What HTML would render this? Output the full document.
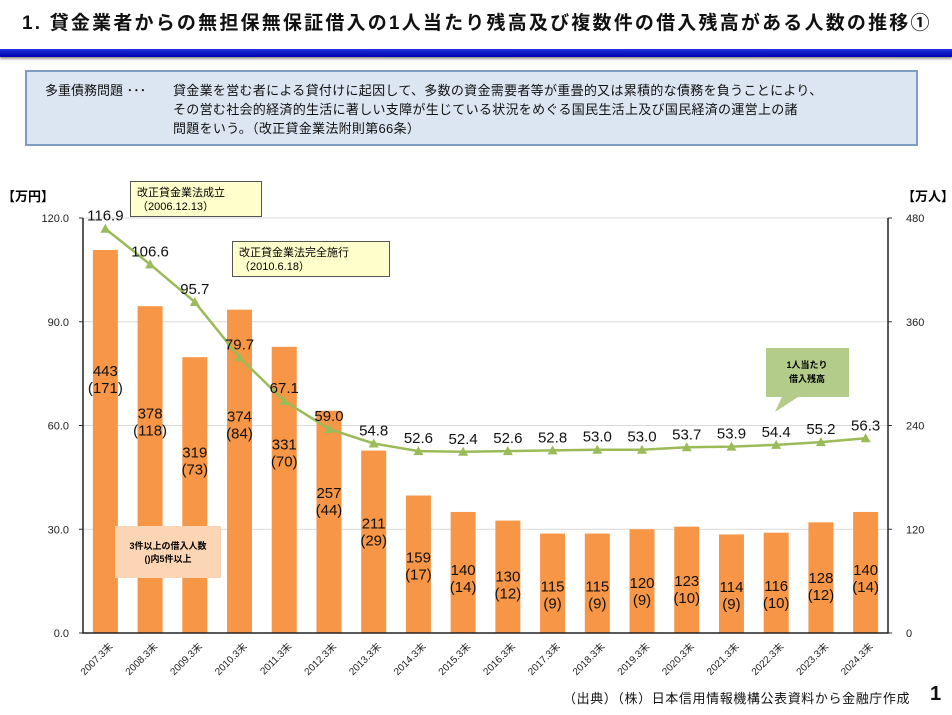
<!DOCTYPE html>
<html><head><meta charset="utf-8"><style>
body{margin:0;width:952px;height:715px;background:#fff;overflow:hidden;font-family:"Liberation Sans","Noto Sans CJK JP",sans-serif;position:relative}
.abs{position:absolute}
</style></head><body>
<div class="abs" style="left:22px;top:8px;font-size:19px;font-weight:bold;color:#111;white-space:nowrap;letter-spacing:2.2px">1. 貸金業者からの無担保無保証借入の1人当たり残高及び複数件の借入残高がある人数の推移①</div>
<div class="abs" style="left:0;top:49px;width:952px;height:8px;background:linear-gradient(#2233dd,#0000aa);box-shadow:0 2px 2px #999"></div>
<div class="abs" style="left:25px;top:70px;width:893px;height:76px;background:#dce6f2;border:2px solid #7f9cc4;box-sizing:border-box;font-size:13px;color:#111;line-height:19px">
<div class="abs" style="left:18px;top:9px">多重債務問題 ･･･</div>
<div class="abs" style="left:146px;top:9px;width:740px;letter-spacing:0.3px">貸金業を営む者による貸付けに起因して、多数の資金需要者等が重畳的又は累積的な債務を負うことにより、<br>その営む社会的経済的生活に著しい支障が生じている状況をめぐる国民生活上及び国民経済の運営上の諸<br>問題をいう。（改正貸金業法附則第66条）</div>
</div>
<svg class="abs" style="left:0;top:0" width="952" height="715" id="chart"></svg>
<div class="abs" style="left:563px;top:688px;font-size:13px;letter-spacing:0.6px;color:#111">（出典）（株）日本信用情報機構公表資料から金融庁作成</div>
<div class="abs" style="left:930px;top:683px;font-size:20px;font-weight:bold;color:#111">1</div>
<script>
const categories=["2007.3末","2008.3末","2009.3末","2010.3末","2011.3末","2012.3末","2013.3末","2014.3末","2015.3末","2016.3末","2017.3末","2018.3末","2019.3末","2020.3末","2021.3末","2022.3末","2023.3末","2024.3末"];
const people3plus=[443,378,319,374,331,257,211,159,140,130,115,115,120,123,114,116,128,140];
const people5plus=[171,118,73,84,70,44,29,17,14,12,9,9,9,10,9,10,12,14];
const balancePerPerson=[116.9,106.6,95.7,79.7,67.1,59.0,54.8,52.6,52.4,52.6,52.8,53.0,53.0,53.7,53.9,54.4,55.2,56.3];
const leftTicks=[0,30,60,90,120];
const rightTicks=[0,120,240,360,480];
const svg=document.getElementById('chart');
const NS='http://www.w3.org/2000/svg';
const X0=83,X1=888,Y0=633,Y1=218;
const band=(X1-X0)/categories.length;
const xc=i=>X0+band*(i+0.5);
const yL=v=>Y0-(v/120)*(Y0-Y1);
const yR=v=>Y0-(v/480)*(Y0-Y1);
function mk(tag,attrs,txt){const e=document.createElementNS(NS,tag);for(const k in attrs)e.setAttribute(k,attrs[k]);if(txt!==undefined)e.textContent=txt;svg.appendChild(e);return e;}
leftTicks.forEach((t,i)=>{
 if(t>0){const g=mk('line',{x1:X0,x2:X1,y1:yL(t),y2:yL(t),stroke:'#d9d9d9','stroke-width':1});
 
 }
 const tk=mk('line',{x1:X0-4,x2:X0,y1:yL(t),y2:yL(t),stroke:'#333'});
 
 
 const l=mk('text',{x:X0-14,y:yL(t)+4,'font-size':11,'text-anchor':'end',fill:'#222'},t.toFixed(1));
 
 
});
rightTicks.forEach(t=>{
 const tk=mk('line',{x1:X1,x2:X1+4,y1:yR(t),y2:yR(t),stroke:'#333'});
 
 
 const l=mk('text',{x:X1+18,y:yR(t)+4,'font-size':11,fill:'#222'},String(t));
 
 
});
categories.forEach((c,i)=>{
 const b=mk('rect',{x:xc(i)-12.5,y:yR(people3plus[i]),width:25,height:Y0-yR(people3plus[i]),fill:'#f79646'});
 
 
 const ly=667-0.657*people3plus[i];
 const t1=mk('text',{x:xc(i),y:ly,'font-size':15,'text-anchor':'middle',fill:'#111'},String(people3plus[i]));
 
 
 const t2=mk('text',{x:xc(i),y:ly+17,'font-size':15,'text-anchor':'middle',fill:'#111'},'('+people5plus[i]+')');
 
 
 const xl=mk('text',{x:xc(i)+8,y:Y0+14,'font-size':10,'text-anchor':'end',fill:'#222',transform:`rotate(-45 ${xc(i)+8} ${Y0+14})`},c);
 
 
});
const ax=mk('path',{d:`M${X0} ${Y1}V${Y0}H${X1}V${Y1}`,fill:'none',stroke:'#222','stroke-width':1.5});


const pts=balancePerPerson.map((v,i)=>xc(i)+','+yL(v)).join(' ');
const ln=mk('polyline',{points:pts,fill:'none',stroke:'#9bbb59','stroke-width':2.5});


balancePerPerson.forEach((v,i)=>{
 const x=xc(i),y=yL(v);
 const m=mk('path',{d:`M${x} ${y-5}L${x+5} ${y+4}L${x-5} ${y+4}Z`,fill:'#9bbb59'});
 
 
 const t=mk('text',{x:x,y:y-8,'font-size':15,'text-anchor':'middle',fill:'#111'},v.toFixed(1));
 
 
});
</script>
<div class="abs" style="left:2px;top:186px;font-size:13px;font-weight:bold">【万円】</div>
<div class="abs" style="left:902px;top:186px;font-size:13px;font-weight:bold">【万人】</div>
<div class="abs" style="left:130px;top:181px;width:132px;height:36px;background:#ffffcc;border:1px solid #555;font-size:11px;line-height:14px;padding:4px 6px;box-sizing:border-box">改正貸金業法成立<br>（2006.12.13）</div>
<div class="abs" style="left:232px;top:241px;width:158px;height:36px;background:#ffffcc;border:1px solid #555;font-size:11px;line-height:14px;padding:4px 6px;box-sizing:border-box">改正貸金業法完全施行<br>（2010.6.18）</div>
<div class="abs" style="left:115px;top:526px;width:106px;height:52px;background:#fcd5b4;font-size:9px;font-weight:bold;text-align:center;line-height:13px;padding-top:14px;box-sizing:border-box">3件以上の借入人数<br>()内5件以上</div>
<svg class="abs" style="left:760px;top:345px" width="95" height="70"><path d="M6 3H89V52H38L15 67L22 52H6Z" fill="#b3cc8a"/><text x="47" y="23" font-size="9" font-weight="bold" text-anchor="middle">1人当たり</text><text x="47" y="37" font-size="9" font-weight="bold" text-anchor="middle">借入残高</text></svg>
</body></html>
